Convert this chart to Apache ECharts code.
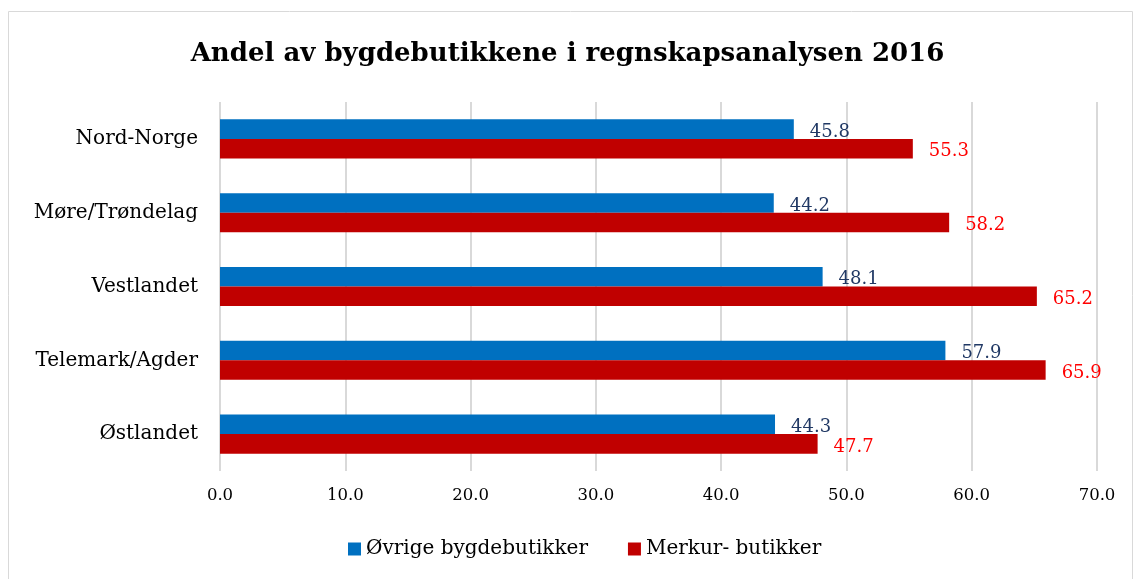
<!DOCTYPE html>
<html>
<head>
<meta charset="utf-8">
<script src="https://cdn.jsdelivr.net/npm/echarts@6/dist/echarts.min.js"></script>
<style>
  html, body { margin: 0; padding: 0; background: #fff; }
  #chart { width: 1135px; height: 579px; }
</style>
</head>
<body>
<div id="chart"></div>
<script>
// data (bottom to top, as echarts draws category y axis)
var regioner = ['Østlandet', 'Telemark/Agder', 'Vestlandet', 'Møre/Trøndelag', 'Nord-Norge'];
var ovrige = [44.3, 57.9, 48.1, 44.2, 45.8];
var merkur = [47.7, 65.9, 65.2, 58.2, 55.3];
var serieNavn = ['Øvrige bygdebutikker', 'Merkur- butikker'];

var font = '"DejaVu Serif", serif';

var myChart = echarts.init(document.getElementById('chart'));
var option = {
    animation: false,
    graphic: [{
        type: 'rect',
        shape: { x: 8.5, y: 11.5, width: 1124, height: 580 },
        style: { fill: 'none', stroke: '#d9d9d9', lineWidth: 1 }
    }],
    title: {
        text: 'Andel av bygdebutikkene i regnskapsanalysen 2016',
        left: 'center',
        top: 36,
        textStyle: { fontFamily: font, fontWeight: 'bold', fontSize: 26, color: '#000' }
    },
    legend: {
        bottom: 15,
        left: 343,
        icon: 'rect',
        itemWidth: 13,
        itemHeight: 13,
        itemGap: 40,
        textStyle: { fontFamily: font, fontSize: 20, color: '#000' },
        data: serieNavn
    },
    grid: { left: 220, right: 38, top: 102, bottom: 108, containLabel: false },
    xAxis: {
        type: 'value',
        min: 0,
        max: 70,
        interval: 10,
        axisLine: { show: false },
        axisTick: { show: false },
        splitLine: { lineStyle: { color: '#d9d9d9', width: 2 } },
        axisLabel: {
            margin: 16,
            fontFamily: font, fontSize: 16.5, color: '#000',
            formatter: function (v) { return v.toFixed(1); }
        }
    },
    yAxis: {
        type: 'category',
        data: regioner,
        axisLine: { show: false },
        axisTick: { show: false },
        axisLabel: { margin: 22, fontFamily: font, fontSize: 20, color: '#000' }
    },
    series: [{
        name: serieNavn[0],
        type: 'bar',
        data: ovrige,
        barGap: '0%',
        barCategoryGap: '47%',
        itemStyle: { color: '#0070C0' },
        label: {
            show: true, position: 'right', distance: 16, offset: [0, 3],
            fontFamily: font, fontSize: 18, color: '#203864',
            formatter: function (p) { return p.value.toFixed(1); }
        }
    }, {
        name: serieNavn[1],
        type: 'bar',
        data: merkur,
        barGap: '0%',
        barCategoryGap: '47%',
        itemStyle: { color: '#C00000' },
        label: {
            show: true, position: 'right', distance: 16, offset: [0, 3],
            fontFamily: font, fontSize: 18, color: '#FF0000',
            formatter: function (p) { return p.value.toFixed(1); }
        }
    }]
};
myChart.setOption(option);
</script>
</body>
</html>
